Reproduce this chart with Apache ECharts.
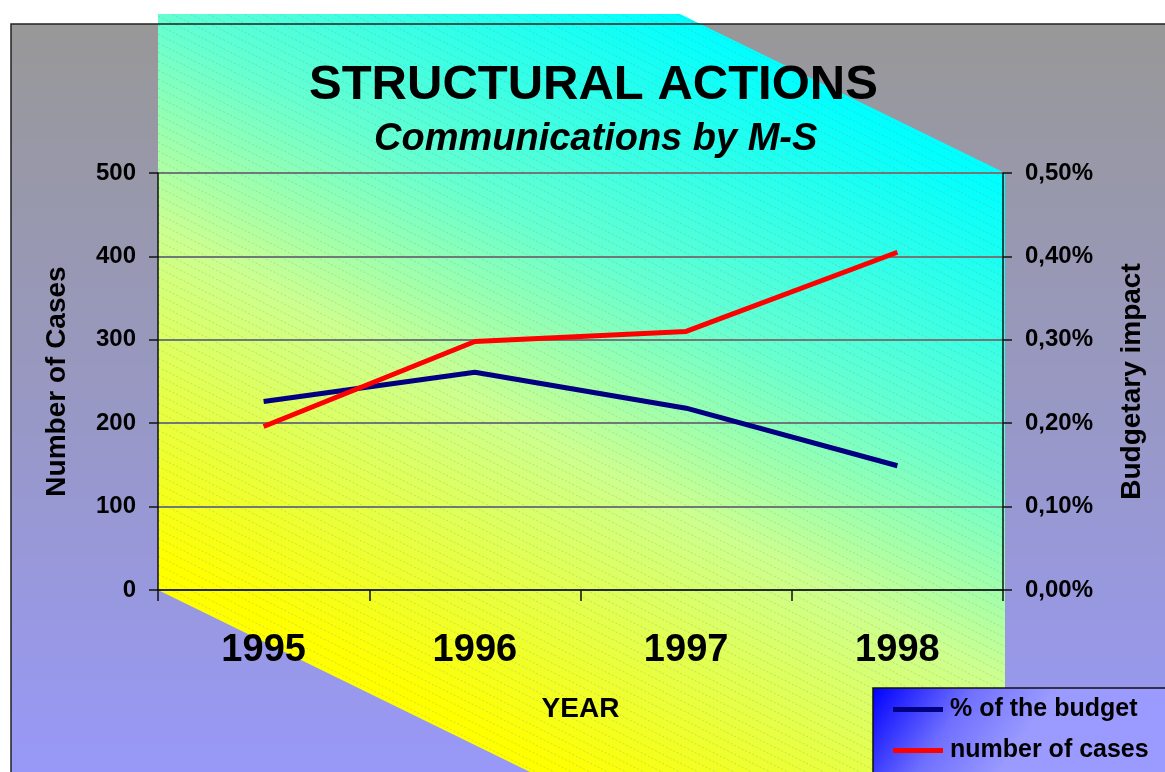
<!DOCTYPE html>
<html>
<head>
<meta charset="utf-8">
<script src="https://cdn.jsdelivr.net/npm/echarts@6/dist/echarts.min.js"></script>
<style>
  html, body { margin: 0; padding: 0; background: #fff; }
  #chart { width: 1165px; height: 772px; }
</style>
</head>
<body>
<div id="chart"></div>
<script>
// data
const years = ['1995', '1996', '1997', '1998'];
const budgetPct = [0.226, 0.261, 0.218, 0.149];   // % of the budget (right axis)
const cases = [196, 298, 310, 405];                // number of cases (left axis)
const caseTicks = [0, 100, 200, 300, 400, 500];
const pctTicks = [0, 0.1, 0.2, 0.3, 0.4, 0.5];

const FONT = '"Liberation Sans", Arial, sans-serif';

// hatch tile for the diagonal fine lines
function hatchTile() {
  const c = document.createElement('canvas');
  c.width = 18; c.height = 9;
  const ctx = c.getContext('2d');
  ctx.strokeStyle = 'rgba(120,120,120,0.25)';
  ctx.lineWidth = 1;
  ctx.setLineDash([2, 2]);
  ctx.beginPath();
  ctx.moveTo(0, 0);
  ctx.lineTo(18, 9);
  ctx.stroke();
  return c;
}

const myChart = echarts.init(document.getElementById('chart'));

const hexPoints = [[158, 14], [680, 14], [1005, 173], [1005, 772], [530, 772], [158, 590]];

const option = {
  animation: false,
  textStyle: { fontFamily: FONT },
  title: [
    {
      text: 'STRUCTURAL ACTIONS',
      left: 309,
      top: 61,
      padding: 0,
      textStyle: { fontSize: 49, fontWeight: 'bold', color: '#000', fontFamily: FONT }
    },
    {
      text: 'Communications by M-S',
      left: 374,
      top: 121,
      padding: 0,
      textStyle: { fontSize: 38, fontWeight: 'bold', fontStyle: 'italic', color: '#000', fontFamily: FONT }
    }
  ],
  graphic: {
    elements: [
      {
        type: 'rect', z: -30, silent: true,
        shape: { x: 11, y: 24, width: 1160, height: 760 },
        style: {
          fill: new echarts.graphic.LinearGradient(0, 0, 0, 1, [
            { offset: 0, color: '#989898' },
            { offset: 0.5, color: '#9898c4' },
            { offset: 1, color: '#9898fa' }
          ])
        }
      },
      {
        type: 'polygon', z: -29, silent: true,
        shape: { points: hexPoints },
        style: {
          fill: {
            type: 'linear', global: true,
            x: 200, y: 580, x2: 541, y2: -59,
            colorStops: [
              { offset: 0, color: '#ffff00' },
              { offset: 0.4, color: '#ccff90' },
              { offset: 0.65, color: '#66ffd0' },
              { offset: 1, color: '#00ffff' }
            ]
          }
        }
      },
      {
        type: 'polygon', z: -28, silent: true,
        shape: { points: hexPoints },
        style: { fill: { image: hatchTile(), repeat: 'repeat' } }
      },
      {
        type: 'polyline', z: -27, silent: true,
        shape: { points: [[11, 772], [11, 24], [1165, 24]] },
        style: { stroke: '#222', lineWidth: 1.5, fill: null }
      },
      {
        type: 'rect', z: 3, silent: true,
        shape: { x: 873, y: 688, width: 300, height: 100 },
        style: {
          fill: {
            type: 'linear', global: true,
            x: 873, y: 688, x2: 1000, y2: 772,
            colorStops: [
              { offset: 0, color: '#0000ff' },
              { offset: 0.55, color: '#7070ff' },
              { offset: 1, color: '#9a9aff' }
            ]
          },
          stroke: '#111', lineWidth: 1.5
        }
      }
    ]
  },
  legend: {
    orient: 'vertical',
    left: 893,
    top: 697,
    padding: 0,
    itemWidth: 50,
    itemHeight: 5,
    itemGap: 16,
    icon: 'rect',
    z: 10,
    data: ['% of the budget', 'number of cases'],
    textStyle: { fontSize: 25, fontWeight: 'bold', color: '#000', fontFamily: FONT, padding: [0, 0, 0, 2] }
  },
  grid: {
    left: 158,
    right: 162,
    top: 173,
    bottom: 182
  },
  xAxis: {
    type: 'category',
    data: years,
    boundaryGap: true,
    name: 'YEAR',
    nameLocation: 'middle',
    nameGap: 105,
    nameTextStyle: { fontSize: 28, fontWeight: 'bold', color: '#000', fontFamily: FONT },
    axisLine: { lineStyle: { color: '#111', width: 1.5 } },
    axisTick: { show: true, inside: false, length: 11, lineStyle: { color: '#111', width: 1.5 } },
    axisLabel: { margin: 42, fontSize: 38, fontWeight: 'bold', color: '#000', fontFamily: FONT }
  },
  yAxis: [
    {
      type: 'value',
      position: 'left',
      min: caseTicks[0],
      max: caseTicks[caseTicks.length - 1],
      interval: caseTicks[1] - caseTicks[0],
      name: 'Number of Cases',
      nameLocation: 'middle',
      nameRotate: 90,
      nameGap: 87,
      nameTextStyle: { fontSize: 28, fontWeight: 'bold', color: '#000', fontFamily: FONT },
      axisLine: { show: true, lineStyle: { color: '#111', width: 1.5 } },
      axisTick: { show: true, inside: false, length: 9, lineStyle: { color: '#111', width: 1.5 } },
      axisLabel: { margin: 22, fontSize: 24, fontWeight: 'bold', color: '#000', fontFamily: FONT },
      splitLine: { show: true, lineStyle: { color: '#6f7a78', width: 2 } }
    },
    {
      type: 'value',
      position: 'right',
      min: pctTicks[0],
      max: pctTicks[pctTicks.length - 1],
      interval: 0.1,
      name: 'Budgetary impact',
      nameLocation: 'middle',
      nameRotate: 90,
      nameGap: 115,
      nameTextStyle: { fontSize: 28, fontWeight: 'bold', color: '#000', fontFamily: FONT },
      axisLine: { show: true, lineStyle: { color: '#111', width: 1.5 } },
      axisTick: { show: true, inside: false, length: 9, lineStyle: { color: '#111', width: 1.5 } },
      axisLabel: {
        margin: 22, fontSize: 24, fontWeight: 'bold', color: '#000', fontFamily: FONT,
        formatter: function (v) { return v.toFixed(2).replace('.', ',') + '%'; }
      },
      splitLine: { show: false }
    }
  ],
  series: [
    {
      name: '% of the budget',
      type: 'line',
      yAxisIndex: 1,
      data: budgetPct,
      symbol: 'none',
      color: '#000080',
      lineStyle: { color: '#000080', width: 5 }
    },
    {
      name: 'number of cases',
      type: 'line',
      yAxisIndex: 0,
      data: cases,
      symbol: 'none',
      color: '#ff0000',
      lineStyle: { color: '#ff0000', width: 5 }
    }
  ]
};

myChart.setOption(option, true);
</script>
</body>
</html>
